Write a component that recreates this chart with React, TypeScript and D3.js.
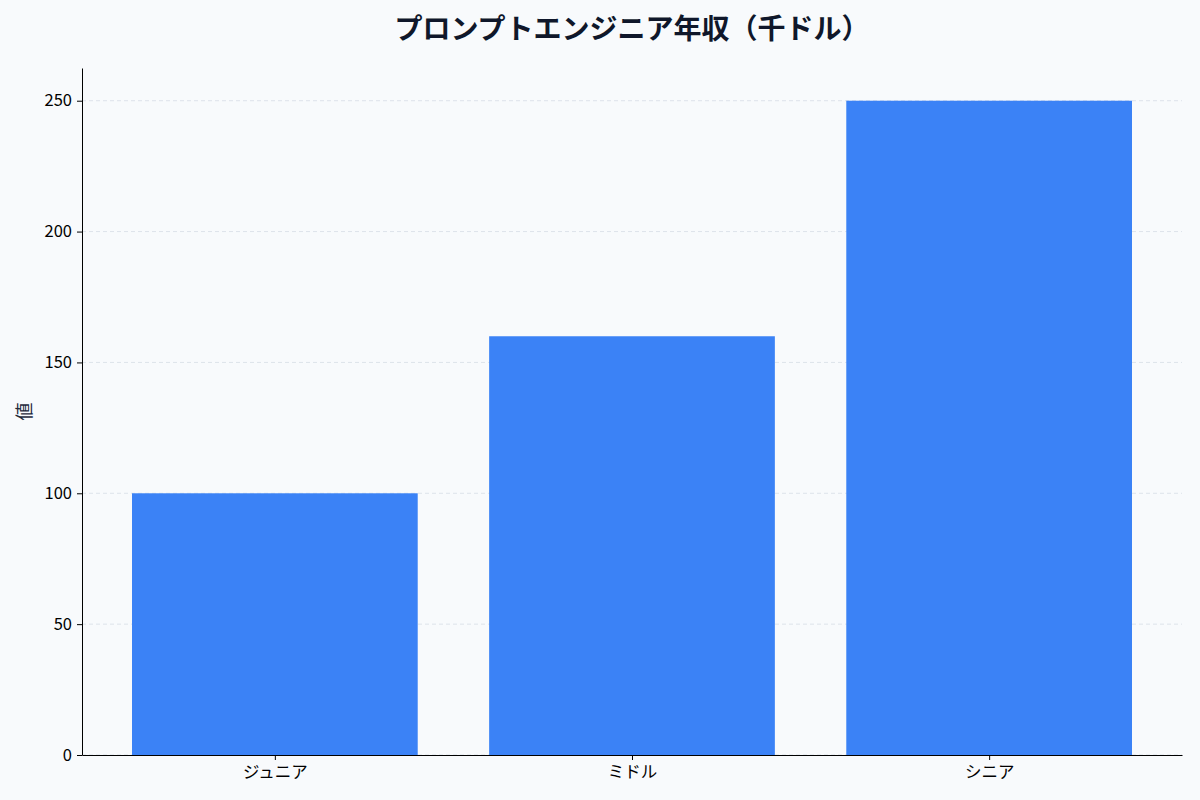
import { useEffect, useRef } from 'react'
import * as d3 from 'd3'

const categories = ['ジュニア', 'ミドル', 'シニア']
const salaries = [100, 160, 250]
const yTicks = [0, 50, 100, 150, 200, 250]
const titleText = 'プロンプトエンジニア年収（千ドル）'
const yLabel = '値'

const FONT = '"Noto Sans CJK JP", "Noto Sans", sans-serif'

export default function App() {
  const ref = useRef<SVGSVGElement | null>(null)
  const svgWidth = 1200
  const svgHeight = 800

  useEffect(() => {
    document.body.style.margin = '0'
    document.body.style.background = '#f8fafc'

    const svg = d3.select(ref.current)
    svg.selectAll('*').remove()

    const margin = { top: 68, right: 18, bottom: 45, left: 82 }
    const width = svgWidth - margin.left - margin.right
    const height = svgHeight - margin.top - margin.bottom

    svg.append('rect').attr('width', svgWidth).attr('height', svgHeight).attr('fill', '#f8fafc')

    const chart = svg.append('g').attr('transform', `translate(${margin.left},${margin.top})`)

    // matplotlib-like x limits: bars of width 0.8 plus 5% margin
    const xLin = d3.scaleLinear().domain([-0.54, categories.length - 1 + 0.54]).range([0, width])
    const yScale = d3.scaleLinear().domain([0, 262.5]).range([height, 0])

    // grid
    chart
      .append('g')
      .selectAll('line')
      .data(yTicks)
      .enter()
      .append('line')
      .attr('x1', 0)
      .attr('x2', width)
      .attr('y1', (d) => yScale(d))
      .attr('y2', (d) => yScale(d))
      .attr('stroke', '#dde3ea')
      .attr('stroke-dasharray', '4,3')
      .attr('stroke-width', 1)

    chart
      .selectAll('.bar')
      .data(salaries)
      .enter()
      .append('rect')
      .attr('class', 'bar')
      .attr('x', (d, i) => xLin(i - 0.4))
      .attr('y', (d) => yScale(d))
      .attr('width', xLin(0.4) - xLin(-0.4))
      .attr('height', (d) => height - yScale(d))
      .attr('fill', '#3b82f6')

    const yAxis = chart
      .append('g')
      .call(d3.axisLeft(yScale).tickValues(yTicks).tickSize(5).tickPadding(5).tickSizeOuter(0))
    yAxis.select('.domain').attr('stroke', '#000')
    yAxis.selectAll('text').attr('font-family', FONT).attr('font-size', 16.5).attr('fill', '#000')

    const xAxis = chart
      .append('g')
      .attr('transform', `translate(0,${height})`)
      .call(
        d3
          .axisBottom(xLin)
          .tickValues(d3.range(categories.length))
          .tickFormat((d) => categories[d as number])
          .tickSize(5)
          .tickPadding(6)
          .tickSizeOuter(0),
      )
    xAxis.select('.domain').attr('stroke', '#000')
    xAxis.selectAll('text').attr('font-family', FONT).attr('font-size', 16.5).attr('fill', '#000')

    svg
      .append('text')
      .attr('x', margin.left + width / 2)
      .attr('y', 39)
      .attr('text-anchor', 'middle')
      .attr('font-family', FONT)
      .attr('font-size', 28)
      .attr('font-weight', 'bold')
      .attr('fill', '#0f172a')
      .text(titleText)

    svg
      .append('text')
      .attr('transform', `translate(31,${margin.top + height / 2}) rotate(-90)`)
      .attr('text-anchor', 'middle')
      .attr('font-family', FONT)
      .attr('font-size', 18)
      .attr('fill', '#1e293b')
      .text(yLabel)
  }, [])

  return <svg width={svgWidth} height={svgHeight} ref={ref} style={{ display: 'block' }} />
}
